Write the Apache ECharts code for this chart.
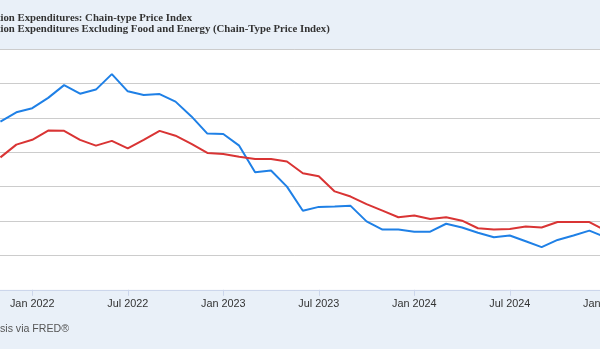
<!DOCTYPE html>
<html>
<head>
<meta charset="utf-8">
<script src="https://cdn.jsdelivr.net/npm/echarts@6/dist/echarts.min.js"></script>
<style>
  html, body { margin: 0; padding: 0; width: 600px; height: 349px; overflow: hidden; background: #e9f0f8; }
  #wrap { position: absolute; top: 0; left: -140px; width: 760px; height: 349px; }
</style>
</head>
<body>
<div id="wrap"></div>
<script>
// Monthly observations, percent change from a year ago
const months = [
  '2021-10','2021-11','2021-12',
  '2022-01','2022-02','2022-03','2022-04','2022-05','2022-06','2022-07','2022-08','2022-09','2022-10','2022-11','2022-12',
  '2023-01','2023-02','2023-03','2023-04','2023-05','2023-06','2023-07','2023-08','2023-09','2023-10','2023-11','2023-12',
  '2024-01','2024-02','2024-03','2024-04','2024-05','2024-06','2024-07','2024-08','2024-09','2024-10','2024-11','2024-12',
  '2025-01'
];

// PCE: Chain-type Price Index
const pceHeadline = [
  null, 5.89, 6.16,
  6.28, 6.58, 6.95, 6.70, 6.82, 7.27, 6.77, 6.66, 6.69, 6.47, 6.04, 5.54,
  5.53, 5.19, 4.42, 4.47, 4.00, 3.30, 3.41, 3.42, 3.44, 2.99, 2.75, 2.75,
  2.69, 2.69, 2.92, 2.81, 2.66, 2.53, 2.58, 2.41, 2.24, 2.45, 2.58, 2.72,
  2.53
];

// PCE excluding food and energy
const pceCore = [
  null, 4.85, 5.22,
  5.36, 5.63, 5.62, 5.36, 5.19, 5.33, 5.11, 5.36, 5.62, 5.48, 5.24, 4.98,
  4.95, 4.87, 4.80, 4.80, 4.73, 4.39, 4.30, 3.86, 3.71, 3.49, 3.30, 3.11,
  3.16, 3.06, 3.11, 3.01, 2.79, 2.75, 2.77, 2.84, 2.81, 2.97, 2.97, 2.97,
  2.73
];

const seriesNames = [
  'Personal Consumption Expenditures: Chain-type Price Index',
  'Personal Consumption Expenditures Excluding Food and Energy (Chain-Type Price Index)'
];
const monthNames = ['Jan','Feb','Mar','Apr','May','Jun','Jul','Aug','Sep','Oct','Nov','Dec'];
const tickMonths = ['01', '07'];
const sourceNote = 'Source: U.S. Bureau of Economic Analysis via FRED\u00AE';

// The canvas starts 140px to the left of the page edge
const OFF = 140;
const legendFont = 'bold 10.75px "Liberation Serif"';
const ctx = document.createElement('canvas').getContext('2d');
ctx.font = legendFont;
const hiddenPrefix = ctx.measureText('Personal Consumpt').width;
const legendIconW = 20;
const legendLeft = OFF + 0.5 - hiddenPrefix - legendIconW - 5;

const isTick = (i, v) => tickMonths.indexOf(String(v).slice(5, 7)) >= 0;

const chart = echarts.init(document.getElementById('wrap'), null, { renderer: 'canvas' });
chart.setOption({
  backgroundColor: '#e9f0f8',
  animation: false,
  legend: {
    orient: 'vertical',
    left: legendLeft,
    top: 12,
    padding: 0,
    itemGap: 0,
    itemWidth: legendIconW,
    itemHeight: 3,
    icon: 'rect',
    textStyle: {
      fontFamily: 'Liberation Serif',
      fontWeight: 'bold',
      fontSize: 10.75,
      lineHeight: 11.6,
      color: '#333333'
    },
    data: seriesNames
  },
  grid: {
    left: 124.5,
    right: 14.7,
    top: 49,
    height: 240.8,
    show: true,
    backgroundColor: '#ffffff',
    borderWidth: 0,
    containLabel: false,
    outerBoundsMode: 'none'
  },
  xAxis: {
    type: 'category',
    boundaryGap: false,
    data: months,
    axisLine: { lineStyle: { color: '#ccd6eb', width: 1 } },
    axisTick: { interval: isTick, length: 6, lineStyle: { color: '#ccd6eb' } },
    axisLabel: {
      interval: isTick,
      margin: 9,
      fontFamily: 'Liberation Sans',
      fontSize: 10.85,
      color: '#333333',
      formatter: v => monthNames[parseInt(v.slice(5, 7), 10) - 1] + ' ' + v.slice(0, 4)
    },
    splitLine: { show: false }
  },
  yAxis: {
    type: 'value',
    min: 1,
    max: 8,
    interval: 1,
    axisLine: { show: false },
    axisTick: { show: false },
    axisLabel: { show: false },
    splitLine: { lineStyle: { color: '#cccccc', width: 1 } }
  },
  series: [
    {
      name: seriesNames[0],
      type: 'line',
      data: pceHeadline,
      showSymbol: false,
      symbol: 'none',
      lineStyle: { color: '#1f80e6', width: 2 },
      itemStyle: { color: '#1f80e6' }
    },
    {
      name: seriesNames[1],
      type: 'line',
      data: pceCore,
      showSymbol: false,
      symbol: 'none',
      lineStyle: { color: '#d93434', width: 2 },
      itemStyle: { color: '#d93434' }
    }
  ],
  graphic: [
    {
      type: 'text',
      x: OFF + 69,
      y: 329.5,
      style: {
        text: sourceNote,
        align: 'right',
        verticalAlign: 'middle',
        fontFamily: 'Liberation Sans',
        fontSize: 10.6,
        fill: '#555555'
      }
    }
  ]
});
</script>
</body>
</html>
